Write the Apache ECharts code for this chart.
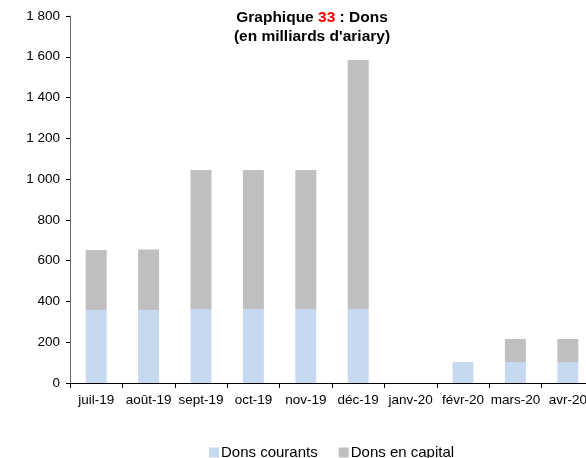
<!DOCTYPE html>
<html>
<head>
<meta charset="utf-8">
<script src="https://cdn.jsdelivr.net/npm/echarts@6/dist/echarts.min.js"></script>
<style>
  html, body { margin: 0; padding: 0; background: #fff; }
  #chart { width: 586px; height: 458px; }
</style>
</head>
<body>
<div id="chart"></div>
<script>
// mois
const categories = ['juil-19', 'août-19', 'sept-19', 'oct-19', 'nov-19', 'déc-19', 'janv-20', 'févr-20', 'mars-20', 'avr-20'];
// dons courants
const donsCourants = [358, 358, 363, 363, 363, 363, 0, 103, 103, 103];
// dons en capital
const donsCapital = [294, 297, 682, 682, 682, 1221, 0, 0, 113, 113];
const yTicks = { min: 0, max: 1800, interval: 200 };

const chart = echarts.init(document.getElementById('chart'));

const fmt = v => String(v).replace(/\B(?=(\d{3})+(?!\d))/g, ' ');

chart.setOption({
  animation: false,
  textStyle: { fontFamily: 'Liberation Sans, Arial, sans-serif' },
  title: {
    left: 307,
    textAlign: 'center',
    top: 3,
    text: '{a|Graphique }{r|33}{a| : Dons}\n{a|(en milliards d\'ariary)}',
    textStyle: {
      rich: {
        a: { fontSize: 15.5, fontWeight: 'bold', color: '#000', lineHeight: 19, fontFamily: 'Liberation Sans' },
        r: { fontSize: 15.5, fontWeight: 'bold', color: '#ff0000', lineHeight: 19, fontFamily: 'Liberation Sans' }
      }
    }
  },
  legend: {
    left: 204,
    top: 440,
    icon: 'rect',
    itemWidth: 10,
    itemHeight: 10,
    itemGap: 21,
    textStyle: { fontSize: 15, color: '#000', padding: [0, 0, 0, -3] },
    data: ['Dons courants', 'Dons en capital']
  },
  grid: { left: 70, right: -8, top: 16, bottom: 75, outerBoundsMode: 'none' },
  xAxis: {
    type: 'category',
    data: categories,
    axisLine: { lineStyle: { color: '#000' } },
    axisTick: { show: true, length: 5, lineStyle: { color: '#000' } },
    axisLabel: { color: '#000', fontSize: 13.5, margin: 10, interval: 0 }
  },
  yAxis: {
    type: 'value',
    min: yTicks.min,
    max: yTicks.max,
    interval: yTicks.interval,
    axisLine: { show: true, lineStyle: { color: '#666' } },
    axisTick: { show: true, length: 4, lineStyle: { color: '#000' } },
    splitLine: { show: false },
    axisLabel: { color: '#000', fontSize: 13.5, margin: 10, formatter: fmt }
  },
  series: [
    {
      name: 'Dons courants',
      type: 'bar',
      stack: 'dons',
      barWidth: '40%',
      itemStyle: { color: '#c6d9f1' },
      data: donsCourants
    },
    {
      name: 'Dons en capital',
      type: 'bar',
      stack: 'dons',
      barWidth: '40%',
      itemStyle: { color: '#bfbfbf' },
      data: donsCapital
    }
  ]
});
</script>
</body>
</html>
